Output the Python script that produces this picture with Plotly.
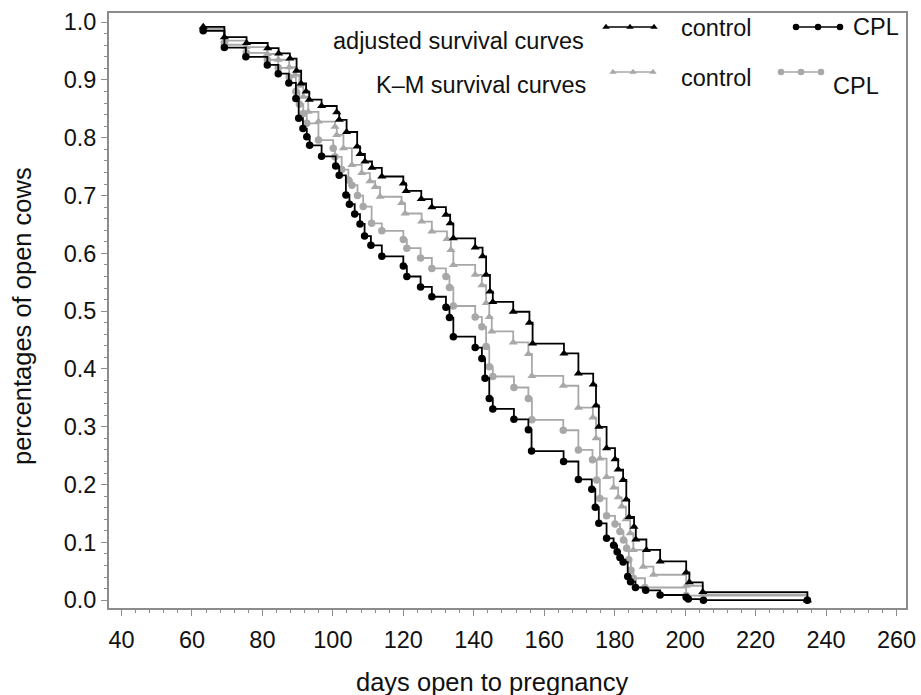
import plotly.graph_objects as go

# ---------------- data ----------------
# adjusted survival curve, control (black triangles)
adj_ctrl_days = [63.2, 69.2, 75.5, 81.5, 84.6, 87.8, 89.7, 91.0, 92.4, 93.3, 96.8, 101.1, 101.8,
                 103.9, 106.9, 107.7, 109.1, 111.1, 113.9, 120.0, 120.8, 125.1, 128.1, 132.1,
                 133.3, 134.2, 140.4, 142.5, 143.5, 144.6, 145.4, 151.2, 155.8, 156.7, 165.6,
                 169.7, 173.9, 174.7, 175.5, 177.7, 180.1, 181.0, 182.4, 183.3, 184.1, 185.5,
                 186.0, 189.0, 192.9, 200.3, 201.2, 205.0, 234.7]
adj_ctrl_surv = [0.992, 0.974, 0.964, 0.955, 0.946, 0.937, 0.916, 0.894, 0.880, 0.866, 0.855, 0.844, 0.831,
                 0.810, 0.785, 0.772, 0.759, 0.748, 0.733, 0.721, 0.708, 0.694, 0.680, 0.667,
                 0.652, 0.626, 0.610, 0.595, 0.563, 0.534, 0.516, 0.499, 0.480, 0.444, 0.427,
                 0.392, 0.373, 0.337, 0.300, 0.263, 0.244, 0.226, 0.208, 0.174, 0.144, 0.127,
                 0.105, 0.087, 0.067, 0.048, 0.031, 0.014, 0.0]

# adjusted survival curve, CPL (black circles)
adj_cpl_days = [63.2, 69.2, 75.3, 81.4, 84.5, 87.5, 89.5, 90.3, 91.5, 92.6, 93.4, 96.8, 100.8, 101.8,
                103.7, 104.7, 106.2, 107.7, 109.0, 110.8, 113.9, 120.0, 121.0, 124.9, 128.1,
                132.1, 133.1, 134.2, 140.4, 142.3, 143.2, 144.4, 145.4, 151.4, 155.5, 156.4,
                165.5, 169.7, 173.5, 174.5, 175.5, 177.7, 179.7, 180.7, 181.5, 182.4, 183.7,
                184.5, 185.9, 188.8, 192.9, 200.3, 200.9, 205.2, 234.7]
adj_cpl_surv = [0.985, 0.956, 0.940, 0.926, 0.911, 0.895, 0.868, 0.834, 0.816, 0.802, 0.787, 0.768, 0.751, 0.735,
                0.701, 0.685, 0.668, 0.651, 0.630, 0.614, 0.595, 0.578, 0.560, 0.542, 0.525,
                0.507, 0.489, 0.456, 0.437, 0.418, 0.384, 0.349, 0.331, 0.313, 0.295, 0.258,
                0.240, 0.209, 0.192, 0.161, 0.133, 0.107, 0.095, 0.084, 0.074, 0.066, 0.041,
                0.032, 0.022, 0.017, 0.009, 0.005, 0.002, 0.0, 0.0]

# Kaplan-Meier curve, control (grey triangles)
km_ctrl_days = [63.2, 69.2, 75.4, 81.4, 84.5, 87.6, 89.3, 90.5, 91.6, 93.0, 95.9, 100.6, 101.1,
                103.0, 105.4, 108.2, 110.5, 112.0, 113.4, 119.5, 120.5, 125.2, 128.1, 132.4,
                133.5, 134.2, 140.4, 142.3, 143.5, 144.4, 145.1, 151.2, 155.5, 156.5, 165.4,
                169.7, 173.8, 174.7, 175.8, 177.7, 179.7, 181.0, 182.0, 183.2, 184.4, 185.3,
                188.1, 191.0, 200.3, 205.0, 234.7]
km_ctrl_surv = [0.989, 0.968, 0.957, 0.945, 0.935, 0.922, 0.909, 0.890, 0.871, 0.845, 0.828, 0.819, 0.805,
                0.782, 0.753, 0.739, 0.725, 0.715, 0.698, 0.687, 0.669, 0.655, 0.638, 0.625,
                0.606, 0.580, 0.563, 0.545, 0.514, 0.490, 0.465, 0.446, 0.426, 0.388, 0.371,
                0.333, 0.316, 0.280, 0.245, 0.213, 0.195, 0.178, 0.162, 0.140, 0.116, 0.087,
                0.058, 0.044, 0.025, 0.010, 0.0]

# Kaplan-Meier curve, CPL (grey circles)
km_cpl_days = [63.2, 69.2, 75.4, 81.4, 84.5, 87.6, 89.5, 90.5, 91.6, 92.6, 95.9, 100.1, 100.6,
               102.5, 104.4, 105.4, 107.0, 108.6, 111.0, 113.9, 120.0, 121.0, 124.9, 128.1,
               132.1, 133.1, 134.2, 140.4, 142.3, 143.5, 144.4, 145.4, 151.4, 155.5, 156.5,
               165.4, 169.7, 173.7, 174.9, 175.8, 177.7, 180.1, 181.5, 182.5, 183.4, 184.0,
               184.6, 185.3, 188.6, 200.3, 234.7]
km_cpl_surv = [0.987, 0.961, 0.947, 0.935, 0.921, 0.905, 0.880, 0.858, 0.842, 0.825, 0.796, 0.782, 0.767,
               0.745, 0.727, 0.718, 0.700, 0.681, 0.652, 0.639, 0.624, 0.609, 0.592, 0.574,
               0.560, 0.541, 0.509, 0.490, 0.473, 0.439, 0.404, 0.387, 0.368, 0.349, 0.312,
               0.294, 0.260, 0.243, 0.208, 0.176, 0.146, 0.132, 0.119, 0.104, 0.090, 0.070,
               0.052, 0.038, 0.022, 0.008, 0.0]

x_ticks = [40, 60, 80, 100, 120, 140, 160, 180, 200, 220, 240, 260]
y_ticks = [0.0, 0.1, 0.2, 0.3, 0.4, 0.5, 0.6, 0.7, 0.8, 0.9, 1.0]

x_title = "days open to pregnancy"
y_title = "percentages of open cows"

# ---------------- styling ----------------
FONT = "Liberation Sans, Arial, sans-serif"
FS = 23.5
FS_TITLE = 25.5
BLACK = "#000000"
GREY = "#a8a8a8"
AXIS = "#8c8c8c"
TXT = "#111111"

fig = go.Figure()

def curve(x, y, color, symbol, size):
    fig.add_trace(go.Scatter(
        x=x, y=y, mode="lines+markers", line=dict(color=color, width=1.8, shape="hv"),
        marker=dict(color=color, symbol=symbol, size=size, line=dict(width=0)),
        showlegend=False, hoverinfo="skip"))

curve(km_ctrl_days, km_ctrl_surv, GREY, "triangle-up", 8)
curve(km_cpl_days, km_cpl_surv, GREY, "circle", 7.5)
curve(adj_ctrl_days, adj_ctrl_surv, BLACK, "triangle-up", 8)
curve(adj_cpl_days, adj_cpl_surv, BLACK, "circle", 7.5)

# ---------------- legend (pixel-unit overlay axis) ----------------
L, R, T, B = 109, 906, 13, 608

def px_to_paper(px, py):
    return (px - L) / (R - L), (B - py) / (B - T)

legend_rows = [
    dict(xs=[606, 630, 654], y=27, color=BLACK, symbol="triangle-up"),
    dict(xs=[796, 818, 840], y=27, color=BLACK, symbol="circle"),
    dict(xs=[613, 633, 653], y=72, color=GREY, symbol="triangle-up"),
    dict(xs=[781, 801, 821], y=72, color=GREY, symbol="circle"),
]
for r in legend_rows:
    fig.add_trace(go.Scatter(
        x=r["xs"], y=[r["y"]] * 3, xaxis="x2", yaxis="y2", mode="lines+markers",
        line=dict(color=r["color"], width=1.5),
        marker=dict(color=r["color"], symbol=r["symbol"], size=6.5, line=dict(width=0)),
        showlegend=False, hoverinfo="skip"))

legend_texts = [
    ("adjusted survival curves", 331, 41, "left"),
    ("control", 679, 28, "left"),
    ("CPL", 851, 27, "left"),
    ("K\u2013M survival curves", 588, 85, "right"),
    ("control", 679, 78, "left"),
    ("CPL", 831, 86, "left"),
]
for txt, x, y, anchor in legend_texts:
    fig.add_annotation(text=txt, x=x, y=y, xref="x2", yref="y2", xanchor=anchor,
                       yanchor="middle", showarrow=False,
                       font=dict(family=FONT, size=FS, color=TXT))

# axis titles placed in paper coordinates (outside the plot area)
xt, yt = px_to_paper(492, 682)
fig.add_annotation(text=x_title, x=xt, y=yt, xref="paper", yref="paper", xanchor="center",
                   yanchor="middle", showarrow=False,
                   font=dict(family=FONT, size=FS_TITLE, color=TXT))
xt, yt = px_to_paper(22, 316)
fig.add_annotation(text=y_title, x=xt, y=yt, xref="paper", yref="paper", xanchor="center",
                   yanchor="middle", textangle=-90, showarrow=False,
                   font=dict(family=FONT, size=FS_TITLE, color=TXT))

fig.update_layout(
    width=921, height=695,
    margin=dict(l=L, r=921 - R, t=T, b=695 - B),
    paper_bgcolor="white", plot_bgcolor="white",
    font=dict(family=FONT, color=TXT),
    xaxis=dict(
        range=[36.45, 262.7], tickvals=x_ticks, ticks="outside", ticklen=6, tickwidth=1.2,
        tickcolor=AXIS, showline=True, linecolor=AXIS, linewidth=2, mirror=True,
        showgrid=False, zeroline=False, tickfont=dict(size=FS, color=TXT),
        ticklabelstandoff=4, automargin=False,
        minor=dict(dtick=4, ticks="outside", ticklen=3, tickcolor=AXIS, tickwidth=1),
    ),
    yaxis=dict(
        range=[-0.0135, 1.0159], tickvals=y_ticks, tickformat=".1f", ticks="outside",
        ticklen=6, tickwidth=1.2, tickcolor=AXIS, showline=True, linecolor=AXIS,
        linewidth=2, mirror=True, showgrid=False, zeroline=False,
        tickfont=dict(size=FS, color=TXT), automargin=False,
        minor=dict(dtick=0.02, ticks="outside", ticklen=3, tickcolor=AXIS, tickwidth=1),
    ),
    xaxis2=dict(overlaying="x", range=[L, R], visible=False, domain=[0, 1]),
    yaxis2=dict(overlaying="y", range=[B, T], visible=False, domain=[0, 1]),
)

fig.write_html("out.html")
